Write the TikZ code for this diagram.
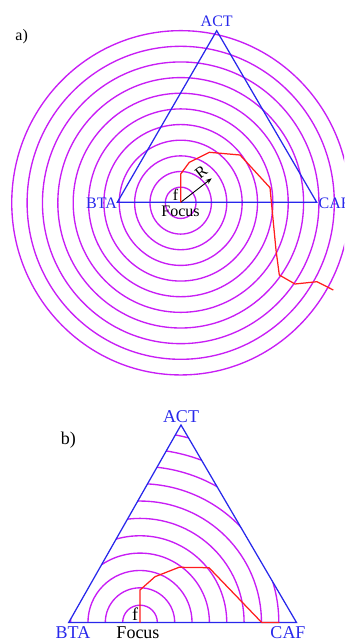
\documentclass[tikz,border=0pt]{standalone}
\usepackage{fontspec}
\setmainfont{Liberation Serif}
\usetikzlibrary{arrows.meta}
\definecolor{ring}{RGB}{200,30,245}
\definecolor{tri}{RGB}{40,40,235}
\definecolor{path}{RGB}{255,30,30}
\tikzset{
  ringline/.style={draw=ring,line width=1.35bp},
  triline/.style={draw=tri,line width=1.25bp,line join=miter},
  redline/.style={draw=path,line width=1.25bp,line join=round},
  lbl/.style={inner sep=0pt,font=\fontsize{16bp}{18bp}\selectfont},
  lblb/.style={inner sep=0pt,font=\fontsize{18bp}{20bp}\selectfont},
}
\begin{document}
\begin{tikzpicture}[x=1bp,y=-1bp]
\useasboundingbox (0,0) rectangle (344,640);
\begin{scope}
\clip (0,0) rectangle (344,640);
% ---------- panel a ----------
\coordinate (fa) at (180.7,202.8);
\foreach \k in {1,...,11}{
  \draw[ringline] (fa) ellipse[x radius=15.36*\k, y radius=15.65*\k];
}
\coordinate (btaA) at (117.3,202.3);
\coordinate (cafA) at (316.7,202.3);
\coordinate (actA) at (216.7,30.7);
\draw[triline] (btaA) -- (cafA) -- (actA) -- cycle;
\coordinate (focA) at (180.7,202.3);
\coordinate (ra) at (211.7,178.3);
\draw[-{Stealth[length=6bp,width=4.5bp]},line width=0.9bp] (focA) -- (ra);
\draw[redline] (focA) -- (180.7,174) -- (189.3,162.3) -- (209.3,152.3) -- (240,155)
  -- (270,187.7) -- (276,250) -- (279.3,275) -- (295,284) -- (317,281.7) -- (333.3,290);
\node[lbl] (la) at (21.7,36.7) {a)};
\node[lbl,text=tri,anchor=south] (tACTa) at (216.7,26.5) {ACT};
\node[lbl,text=tri,anchor=east] (tBTAa) at (117,203) {BTA};
\node[lbl,text=tri,anchor=west] (tCAFa) at (318.5,203) {CAF};
\node[lbl] (tfa) at (175.5,194.5) {f};
\node[lbl] (tFocA) at (180.5,211.5) {Focus};
\node[lbl,rotate=38] (tR) at (201,172) {R};
% ---------- panel b ----------
\coordinate (btaB) at (68.7,622.5);
\coordinate (cafB) at (296.5,622.5);
\coordinate (actB) at (181,425);
\coordinate (focB) at (140,622.5);
\begin{scope}
  \clip (btaB) -- (cafB) -- (actB) -- cycle;
  \foreach \k in {1,...,11}{
    \draw[ringline] (focB) circle[radius=17.35*\k];
  }
\end{scope}
\draw[triline] (btaB) -- (cafB) -- (actB) -- cycle;
\draw[redline] (focB) -- (140,590) -- (155,576.7) -- (179,567.3) -- (209,567.7)
  -- (261.7,622.5) -- (279.3,622.5);
\node[lblb] (lb) at (68.3,440) {b)};
\node[lblb,text=tri,anchor=south] (tACTb) at (181,423) {ACT};
\node[lblb,text=tri] (tBTAb) at (73,632.3) {BTA};
\node[lblb] (tFocB) at (138,632.3) {Focus};
\node[lblb,text=tri] (tCAFb) at (288,632.3) {CAF};
\node[lblb] (tfb) at (135,614.5) {f};
\end{scope}
\end{tikzpicture}
\end{document}
